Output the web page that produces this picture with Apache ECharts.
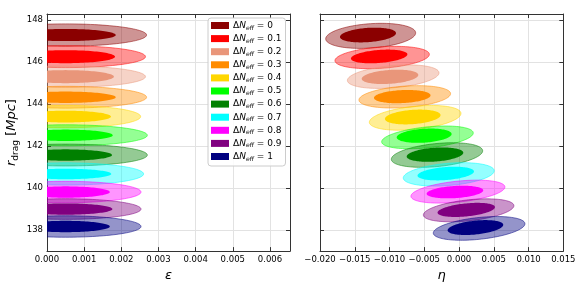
<!DOCTYPE html>
<html><head><meta charset="utf-8">
<script src="https://cdn.jsdelivr.net/npm/echarts@6/dist/echarts.min.js"></script>
<style>html,body{margin:0;padding:0;background:#fff}#c{width:581px;height:287px}</style>
</head><body><div id="c"></div>
<script>
// ---- categories ----
const dnLabels = ['0','0.1','0.2','0.3','0.4','0.5','0.6','0.7','0.8','0.9','1'];
const colors = ['#8B0000','#FF0000','#E9967A','#FF8C00','#FFD700','#00FF00','#008000','#00FFFF','#FF00FF','#800080','#000080'];

// ---- left panel: epsilon vs r_drag (truncated at eps = 0) ----
const rdCenterL     = [147.28,146.25,145.30,144.32,143.40,142.51,141.57,140.67,139.81,139.00,138.17];
const epsPeak       = [0.0005,0.0005,0.0005,0.0005,0.0005,0.0005,0.0005,0.0005,0.0005,0.0005,0.0005];
const epsInnerEdge  = [0.00185,0.00183,0.00180,0.00185,0.00172,0.00177,0.00175,0.00173,0.00169,0.00176,0.00169];
const epsOuterEdge  = [0.00268,0.00265,0.00265,0.00268,0.00252,0.00270,0.00270,0.00260,0.00253,0.00253,0.00253];
const rdInnerHalfL  = [0.29,0.31,0.31,0.27,0.28,0.27,0.27,0.25,0.27,0.27,0.27];
const rdOuterHalfL  = [0.53,0.52,0.51,0.52,0.53,0.50,0.52,0.53,0.51,0.49,0.51];

// ---- right panel: eta vs r_drag ----
const etaOuterC   = [-0.01271,-0.01106,-0.00947,-0.00781,-0.00631,-0.00454,-0.00317,-0.00148,-0.00016,0.00138,0.00289];
const rdOuterC    = [147.24,146.21,145.30,144.34,143.34,142.41,141.57,140.65,139.83,138.94,138.08];
const etaOuterHalf= [0.00647,0.00679,0.00659,0.00659,0.00659,0.00659,0.00657,0.00654,0.00676,0.00651,0.00659];
const rdOuterHalfR= [0.58,0.51,0.53,0.51,0.55,0.50,0.55,0.53,0.50,0.50,0.52];
const rdOuterRise = [0.14,0.15,0.18,0.15,0.21,0.21,0.20,0.17,0.22,0.22,0.22];
const etaInnerC   = [-0.01310,-0.01149,-0.00993,-0.00817,-0.00666,-0.00502,-0.00346,-0.00191,-0.00059,0.00104,0.00236];
const rdInnerC    = [147.28,146.26,145.29,144.35,143.38,142.49,141.59,140.69,139.81,138.96,138.12];
const etaInnerHalf= [0.00403,0.00406,0.00407,0.00407,0.00400,0.00395,0.00407,0.00406,0.00407,0.00413,0.00400];
const rdInnerHalfR= [0.34,0.31,0.33,0.31,0.34,0.33,0.33,0.31,0.29,0.31,0.33];
const rdInnerRise = [0.09,0.10,0.09,0.06,0.09,0.08,0.09,0.10,0.08,0.13,0.13];

// ---- ticks ----
const epsTicks = [0,0.001,0.002,0.003,0.004,0.005,0.006];
const etaTicks = [-0.02,-0.015,-0.01,-0.005,0,0.005,0.01,0.015];
const rdTicks  = [138,140,142,144,146,148];

function rgba(hex, a){
  const n = parseInt(hex.slice(1),16);
  return 'rgba('+((n>>16)&255)+','+((n>>8)&255)+','+(n&255)+','+a+')';
}
function makeRender(col){
  return function(params, api){
    const cx=api.value(0), cy=api.value(1), a=api.value(2), b=api.value(3), rise=api.value(4), lvl=api.value(5);
    const pts=[];
    const N=120;
    for(let i=0;i<N;i++){
      const t=i/N*2*Math.PI;
      pts.push(api.coord([cx+a*Math.cos(t), cy+b*Math.sin(t)+rise*Math.cos(t)]));
    }
    return {type:'polygon', shape:{points:pts},
      style: lvl===0 ? {fill:rgba(col,0.42), stroke:rgba(col,0.65), lineWidth:0.8} : {fill:col, stroke:null}};
  };
}

const series=[];
dnLabels.forEach((lab,i)=>{
  const name='ΔN='+lab;
  series.push({
    type:'custom', name:name, xAxisIndex:0, yAxisIndex:0, clip:true,
    itemStyle:{color:colors[i]},
    renderItem:makeRender(colors[i]),
    data:[
      [epsPeak[i], rdCenterL[i], epsOuterEdge[i]-epsPeak[i], rdOuterHalfL[i], 0, 0],
      [epsPeak[i], rdCenterL[i], epsInnerEdge[i]-epsPeak[i], rdInnerHalfL[i], 0, 1]
    ]
  });
  series.push({
    type:'custom', name:name, xAxisIndex:2, yAxisIndex:2, clip:true,
    itemStyle:{color:colors[i]},
    renderItem:makeRender(colors[i]),
    data:[
      [etaOuterC[i], rdOuterC[i], etaOuterHalf[i], rdOuterHalfR[i], rdOuterRise[i], 0],
      [etaInnerC[i], rdInnerC[i], etaInnerHalf[i], rdInnerHalfR[i], rdInnerRise[i], 1]
    ]
  });
});

const FONT='DejaVu Sans';
const frame={show:true, onZero:false, lineStyle:{color:'#333', width:1}};
const tick={show:true, inside:true, length:4, lineStyle:{color:'#333'}};
const split={show:true, lineStyle:{color:'#e2e2e2', width:1}};
const lab={color:'#000', fontFamily:FONT, fontSize:8.5};

function xAx(grid, min, max, ticks, pos, showLab, fmt, name){
  return {type:'value', gridIndex:grid, min:min, max:max, position:pos,
    axisLine:frame,
    axisTick:Object.assign({customValues:ticks},tick),
    splitLine: showLab ? split : {show:false},
    axisLabel:Object.assign({show:showLab, customValues:ticks, margin:4, formatter:fmt},lab),
    name: name||'', nameLocation:'middle', nameGap:13,
    nameTextStyle:{fontFamily:FONT, fontSize:13, fontStyle:'italic', color:'#000'}
  };
}
function yAx(grid, pos, showLab, split0, nameObj){
  const o={type:'value', gridIndex:grid, min:137.0, max:148.28, position:pos,
    axisLine:frame,
    axisTick:Object.assign({customValues:rdTicks},tick),
    splitLine: split0 ? split : {show:false},
    axisLabel:Object.assign({show:showLab, customValues:rdTicks, margin:4},lab)
  };
  if(nameObj) Object.assign(o,nameObj);
  return o;
}
const fmtEps=v=>v.toFixed(3);
const fmtEta=v=>(v<-1e-9?'−':'')+Math.abs(v).toFixed(3);

const option={
  animation:false,
  backgroundColor:'#fff',
  grid:[
    {left:47, top:14, width:243, height:241},
    {left:320, top:14, width:243.3, height:241}
  ],
  xAxis:[
    xAx(0,0,0.00654,epsTicks,'bottom',true,fmtEps,'ε'),
    xAx(0,0,0.00654,epsTicks,'top',false,fmtEps),
    xAx(1,-0.02,0.015,etaTicks,'bottom',true,fmtEta,'η'),
    xAx(1,-0.02,0.015,etaTicks,'top',false,fmtEta)
  ],
  yAxis:[
    yAx(0,'left',true,true,{
      name:'{r|r}{s|drag}{n| [}{r|Mpc}{n|]}', nameLocation:'middle', nameRotate:90, nameGap:27,
      nameTextStyle:{fontFamily:FONT, fontSize:13, color:'#000',
        rich:{
          r:{fontFamily:FONT, fontSize:13, fontStyle:'italic', lineHeight:16},
          n:{fontFamily:FONT, fontSize:13, lineHeight:16},
          s:{fontFamily:FONT, fontSize:9, verticalAlign:'bottom', lineHeight:10}
        }}
    }),
    yAx(0,'right',false,false),
    yAx(1,'left',false,true),
    yAx(1,'right',false,false)
  ],
  legend:{
    show:true, orient:'vertical', left:208, top:18,
    data:dnLabels.map(l=>'ΔN='+l),
    itemWidth:18, itemHeight:7, itemGap:3.1,
    itemStyle:{borderWidth:0},
    padding:[3,4,4,3],
    backgroundColor:'rgba(255,255,255,0.85)', borderColor:'#cccccc', borderWidth:1, borderRadius:3,
    icon:'rect',
    selectedMode:false,
    formatter:function(name){ return '{d|Δ}{n|N}{s|eff}{d| = '+name.split('=')[1]+'}'; },
    textStyle:{fontFamily:FONT, fontSize:9, color:'#000', padding:[0,0,0,-1],
      rich:{
        d:{fontFamily:FONT, fontSize:9, lineHeight:11},
        n:{fontFamily:FONT, fontSize:9, fontStyle:'italic', lineHeight:11},
        s:{fontFamily:FONT, fontSize:6, fontStyle:'italic', verticalAlign:'bottom', lineHeight:7}
      }}
  },
  series:series
};
const chart=echarts.init(document.getElementById('c'),null,{renderer:'canvas'});
chart.setOption(option);
</script></body></html>
